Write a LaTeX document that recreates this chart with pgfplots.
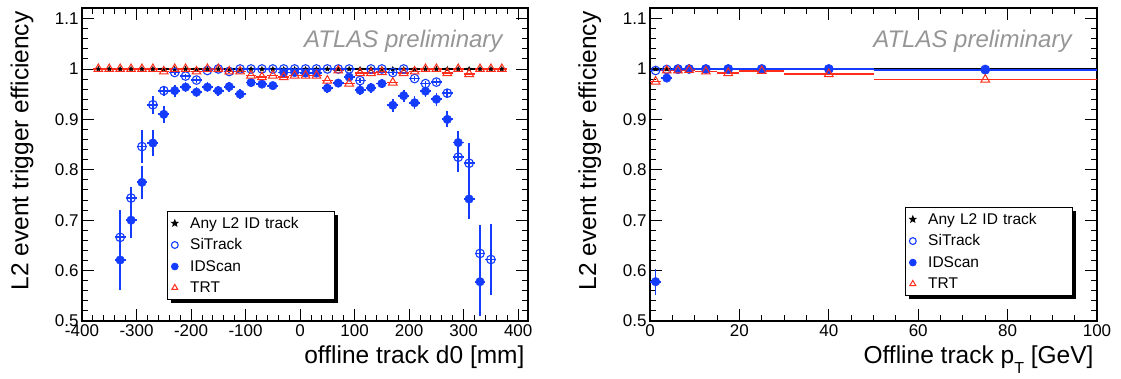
\documentclass[border=0pt]{standalone}
\usepackage{fontspec}
\setmainfont{Liberation Sans}
\usepackage{pgfplots}
\usepackage{pgfplotstable}
\pgfplotsset{compat=1.18}
\usetikzlibrary{shadows}
\definecolor{rblue}{RGB}{20,60,255}
\definecolor{rred}{RGB}{255,45,25}
\definecolor{atlasgray}{RGB}{150,150,150}

\pgfdeclareplotmark{fstar}{%
  \pgfpathmoveto{\pgfpointpolar{90}{\pgfplotmarksize}}%
  \pgfpathlineto{\pgfpointpolar{126}{0.42\pgfplotmarksize}}%
  \pgfpathlineto{\pgfpointpolar{162}{\pgfplotmarksize}}%
  \pgfpathlineto{\pgfpointpolar{198}{0.42\pgfplotmarksize}}%
  \pgfpathlineto{\pgfpointpolar{234}{\pgfplotmarksize}}%
  \pgfpathlineto{\pgfpointpolar{270}{0.42\pgfplotmarksize}}%
  \pgfpathlineto{\pgfpointpolar{306}{\pgfplotmarksize}}%
  \pgfpathlineto{\pgfpointpolar{342}{0.42\pgfplotmarksize}}%
  \pgfpathlineto{\pgfpointpolar{18}{\pgfplotmarksize}}%
  \pgfpathlineto{\pgfpointpolar{54}{0.42\pgfplotmarksize}}%
  \pgfpathclose\pgfusepathqfillstroke}

% ---------- left panel: efficiency vs d0 ----------
\pgfplotstableread{
x y ex ey
-370 1 10 0
-350 1 10 0
-330 1 10 0
-310 1 10 0
-290 1 10 0
-270 1 10 0
-250 1 10 0
-230 1 10 0
-210 1 10 0
-190 1 10 0
-170 1 10 0
-150 1 10 0
-130 1 10 0
-110 1 10 0
-90 1 10 0
-70 1 10 0
-50 1 10 0
-30 1 10 0
-10 1 10 0
10 1 10 0
30 1 10 0
50 1 10 0
70 1 10 0
90 1 10 0
110 1 10 0
130 1 10 0
150 1 10 0
170 1 10 0
190 1 10 0
210 1 10 0
230 1 10 0
250 1 10 0
270 1 10 0
290 1 10 0
310 1 10 0
330 1 10 0
350 1 10 0
370 1 10 0
}\dAny

\pgfplotstableread{
x y ex ey
-330 0.666 10 0.055
-310 0.744 10 0.022
-290 0.846 10 0.033
-270 0.929 10 0.018
-250 0.957 10 0.010
-230 0.993 10 0.004
-210 0.986 10 0.005
-190 0.978 10 0.006
-170 0.997 10 0.003
-150 1.000 10 0.002
-130 0.995 10 0.003
-110 1.000 10 0.002
-90 1.000 10 0.002
-70 1.000 10 0.002
-50 1.000 10 0.002
-30 1.000 10 0.002
-10 1.000 10 0.002
10 1.000 10 0.002
30 1.000 10 0.002
50 1.000 10 0.002
70 1.000 10 0.002
90 1.000 10 0.002
110 0.977 10 0.005
130 1.000 10 0.002
150 1.000 10 0.002
170 0.993 10 0.004
190 1.000 10 0.002
210 0.981 10 0.005
230 0.971 10 0.006
250 0.974 10 0.006
270 0.952 10 0.009
290 0.825 10 0.030
310 0.813 10 0.040
330 0.634 10 0.056
350 0.622 10 0.071
}\dSiL

\pgfplotstableread{
x y ex ey
-330 0.621 10 0.060
-310 0.700 10 0.036
-290 0.775 10 0.033
-270 0.853 10 0.026
-250 0.910 10 0.017
-230 0.957 10 0.012
-210 0.964 10 0.010
-190 0.954 10 0.010
-170 0.964 10 0.010
-150 0.957 10 0.010
-130 0.965 10 0.010
-110 0.950 10 0.010
-90 0.973 10 0.008
-70 0.970 10 0.008
-50 0.967 10 0.008
-30 0.993 10 0.004
-10 0.993 10 0.004
10 0.992 10 0.004
30 0.992 10 0.004
50 0.962 10 0.010
70 0.972 10 0.008
90 0.984 10 0.007
110 0.958 10 0.010
130 0.963 10 0.010
150 0.971 10 0.009
170 0.928 10 0.013
190 0.947 10 0.012
210 0.933 10 0.013
230 0.956 10 0.012
250 0.940 10 0.013
270 0.900 10 0.016
290 0.854 10 0.022
310 0.742 10 0.040
330 0.578 10 0.068
}\dIDL

\pgfplotstableread{
x y ex ey
-370 1.000 10 0
-350 1.000 10 0
-330 1.000 10 0
-310 1.000 10 0
-290 1.000 10 0
-270 1.000 10 0
-250 0.995 10 0
-230 1.000 10 0
-210 1.000 10 0
-190 0.995 10 0
-170 1.000 10 0
-150 1.000 10 0
-130 0.995 10 0
-110 0.995 10 0
-90 0.987 10 0
-70 0.984 10 0
-50 0.987 10 0
-30 0.984 10 0
-10 0.987 10 0
10 0.987 10 0
30 0.987 10 0
50 0.977 10 0
70 0.997 10 0
90 0.971 10 0
110 0.992 10 0
130 0.992 10 0
150 0.994 10 0
170 0.973 10 0
190 0.992 10 0
210 0.995 10 0
230 1.000 10 0
250 1.000 10 0
270 0.992 10 0
290 1.000 10 0
310 0.990 10 0
330 1.000 10 0
350 1.000 10 0
370 1.000 10 0
}\dTRTL

% ---------- right panel: efficiency vs pT ----------
\pgfplotstableread{
x y ex ey
75 1 25 0
1.25 1 1.25 0
3.75 1 1.25 0
6.25 1 1.25 0
8.75 1 1.25 0
12.5 1 2.5 0
17.5 1 2.5 0
25 1 5 0
40 1 10 0
}\rAny

\pgfplotstableread{
x y ex ey
75 0.999 25 0.001
1.25 0.997 1.25 0.002
3.75 0.999 1.25 0.001
6.25 1.000 1.25 0.001
8.75 1.000 1.25 0.001
12.5 1.000 2.5 0.001
17.5 1.000 2.5 0.001
25 1.000 5 0.001
40 1.000 10 0.001
}\rSi

\pgfplotstableread{
x y ex ey
75 0.998 25 0.001
1.25 0.578 1.25 0.026
3.75 0.982 1.25 0.003
6.25 0.999 1.25 0.001
8.75 1.000 1.25 0.001
12.5 1.000 2.5 0.001
17.5 1.000 2.5 0.001
25 1.000 5 0.001
40 1.000 10 0.001
}\rID

\pgfplotstableread{
x y ex ey
75 0.979 25 0
1.25 0.975 1.25 0
3.75 0.997 1.25 0
6.25 0.997 1.25 0
8.75 0.998 1.25 0
12.5 0.995 2.5 0
17.5 0.992 2.5 0
25 0.996 5 0
40 0.990 10 0
}\rTRT

\pgfplotsset{
  rootaxis/.style={
    scale only axis, height=313pt,
    ymin=0.5, ymax=1.121,
    ytick={0.5,0.6,0.7,0.8,0.9,1,1.1},
    minor y tick num=4,
    tick align=inside, xtick pos=both, ytick pos=both,
    axis line style={line width=1.4pt},
    major tick length=12pt, minor tick length=6pt,
    every tick/.style={black, line width=0.9pt},
    tick label style={font=\fontsize{17}{17}\selectfont},
    /pgf/number format/assume math mode=true,
    every axis y label/.style={at={(axis description cs:-0.101,1)}, anchor=south east, rotate=90,
      font=\fontsize{24.5}{24.5}\selectfont},
    every axis x label/.style={at={(axis description cs:1,-0.137)}, anchor=base east,
      font=\fontsize{24.5}{24.5}\selectfont},
    legend style={draw=black, line width=0.8pt, fill=white,
      font=\fontsize{15.5}{15.5}\selectfont, row sep=5pt,
      inner xsep=4pt, inner ysep=3.5pt, anchor=north west,
      drop shadow={shadow xshift=4pt, shadow yshift=-4pt, fill=black, opacity=1},
      /tikz/every odd column/.append style={column sep=10pt},
      /tikz/every even column/.append style={text width=138pt}},
    legend cell align=left,
    legend image post style={mark size=3.4pt},
    error bars/error mark=none,
  },
  anyst/.style={only marks, black, mark=fstar, mark size=2.6pt,
    error bars/.cd, x dir=both, x explicit, error bar style={line width=1.5pt, black}},
  sist/.style={only marks, rblue, mark=o, mark size=4.3pt, mark options={line width=1.1pt},
    error bars/.cd, x dir=both, x explicit, y dir=both, y explicit, error bar style={line width=1.8pt, rblue}},
  idst/.style={only marks, rblue, mark=*, mark size=4.3pt,
    error bars/.cd, x dir=both, x explicit, y dir=both, y explicit, error bar style={line width=1.8pt, rblue}},
  trtst/.style={only marks, rred, mark=triangle, mark size=5pt, mark options={line width=1pt},
    error bars/.cd, x dir=both, x explicit, error bar style={line width=1.5pt, rred}},
}

\begin{document}
\begin{tikzpicture}
\path[use as bounding box] (0,0) rectangle (1121pt,379pt);

\begin{axis}[rootaxis, at={(82pt,58pt)}, anchor=south west, width=446pt,
  xmin=-400, xmax=418, xtick={-400,-300,-200,-100,0,100,200,300,400}, minor x tick num=4,
  xlabel={offline track d0 [mm]}, ylabel={L2 event trigger efficiency},
  legend style={at={(axis description cs:0.1906,0.3514)}}]
\addplot[anyst] table[x=x,y=y,x error=ex,y error=ey]{\dAny};
\addlegendentry{Any L2 ID track}
\addplot[sist] table[x=x,y=y,x error=ex,y error=ey]{\dSiL};
\addlegendentry{SiTrack}
\addplot[idst] table[x=x,y=y,x error=ex,y error=ey]{\dIDL};
\addlegendentry{IDScan}
\addplot[trtst] table[x=x,y=y,x error=ex,y error=ey]{\dTRTL};
\addlegendentry{TRT}
\node[anchor=base east, text=atlasgray, font=\fontsize{24}{24}\selectfont\itshape]
  at (axis description cs:0.9507,0.875) {ATLAS preliminary};
\end{axis}

\begin{axis}[rootaxis, at={(650pt,58pt)}, anchor=south west, width=447pt,
  xmin=0, xmax=100, xtick={0,20,40,60,80,100}, minor x tick num=3,
  xlabel={Offline track p\raisebox{-0.4em}{\fontsize{16}{16}\selectfont T} [GeV]},
  ylabel={L2 event trigger efficiency},
  legend style={at={(axis description cs:0.5705,0.364)}}]
\addplot[anyst] table[x=x,y=y,x error=ex,y error=ey]{\rAny};
\addlegendentry{Any L2 ID track}
\addplot[sist] table[x=x,y=y,x error=ex,y error=ey]{\rSi};
\addlegendentry{SiTrack}
\addplot[idst] table[x=x,y=y,x error=ex,y error=ey]{\rID};
\addlegendentry{IDScan}
\addplot[trtst] table[x=x,y=y,x error=ex,y error=ey]{\rTRT};
\addlegendentry{TRT}
\node[anchor=base east, text=atlasgray, font=\fontsize{24}{24}\selectfont\itshape]
  at (axis description cs:0.951,0.875) {ATLAS preliminary};
\end{axis}
\end{tikzpicture}
\end{document}
